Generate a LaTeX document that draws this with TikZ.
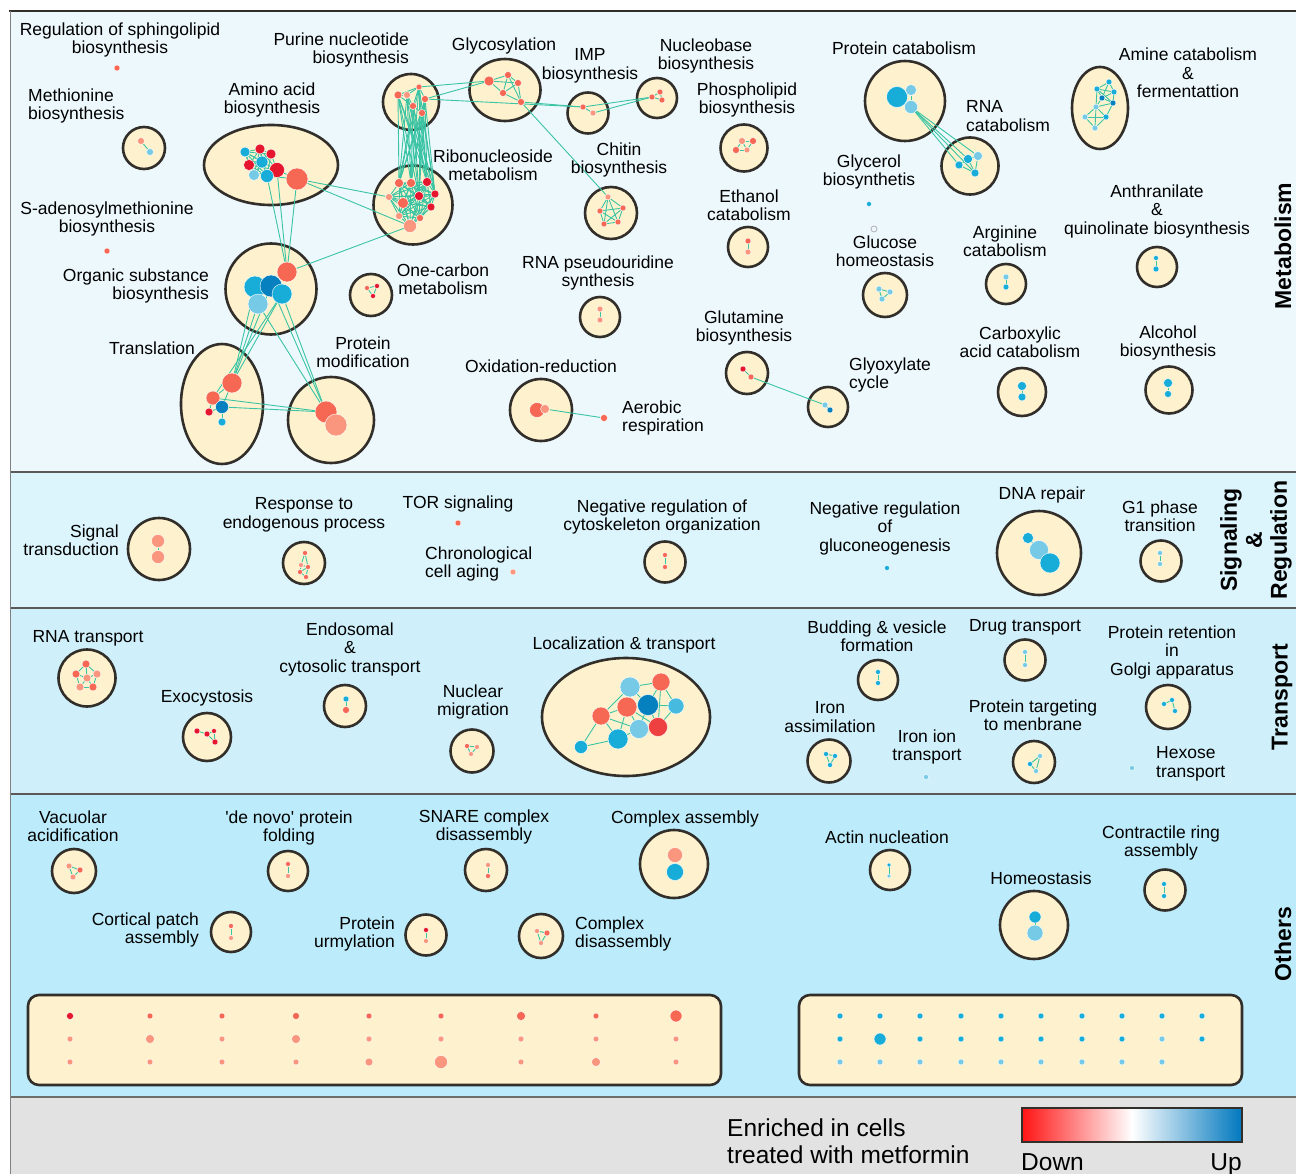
\documentclass[tikz,border=0pt]{standalone}
\usepackage{fontspec}
\setmainfont{Liberation Sans}
\usetikzlibrary{shapes}
\definecolor{rim}{RGB}{50,46,42}
\definecolor{cream}{RGB}{254,242,206}
\definecolor{rA}{RGB}{230,22,46}
\definecolor{rB}{RGB}{246,104,84}
\definecolor{rC}{RGB}{250,150,126}
\definecolor{bA}{RGB}{6,128,190}
\definecolor{bB}{RGB}{24,172,216}
\definecolor{bC}{RGB}{118,202,230}
\definecolor{edgec}{RGB}{58,196,164}
\definecolor{panMet}{RGB}{237,248,253}
\definecolor{panSig}{RGB}{220,244,252}
\definecolor{panTra}{RGB}{207,240,251}
\definecolor{panOth}{RGB}{188,236,251}
\definecolor{panLeg}{RGB}{226,226,226}
\tikzstyle{bubble}=[circle,draw=rim,fill=cream,line width=2.6pt,inner sep=0pt]
\tikzstyle{oval}=[ellipse,draw=rim,fill=cream,line width=2.6pt,inner sep=0pt]
\tikzstyle{dot}=[circle,draw=white,line width=0.4pt,inner sep=0pt]
\tikzstyle{link}=[draw=edgec,line width=0.9pt]
\tikzstyle{lbl}=[font=\fontsize{17.5}{18.5}\selectfont,align=center,inner sep=0pt]
\tikzstyle{side}=[font=\fontsize{23}{25}\selectfont\bfseries,align=center,inner sep=0pt,rotate=90]
\pgfdeclarelayer{back}
\pgfdeclarelayer{mid}
\pgfsetlayers{back,mid,main}
\begin{document}
\begin{tikzpicture}[x=1pt,y=-1pt]
\useasboundingbox (0,0) rectangle (1296,1174);
\clip (0,0) rectangle (1296,1174);

\begin{pgfonlayer}{back}
% panels
\fill[panMet] (10,11) rectangle (1300,472);
\fill[panSig] (10,472) rectangle (1300,608);
\fill[panTra] (10,608) rectangle (1300,794);
\fill[panOth] (10,794) rectangle (1300,1097);
\fill[panLeg] (10,1097) rectangle (1300,1180);
\draw[rim,line width=1.2pt] (9,11) -- (1300,11);
\foreach \y in {472,608,794}
    \draw[rim!80,line width=1.5pt] (10,\y) -- (1300,\y);
\draw[rim!70,line width=2.2pt] (10,1097) -- (1300,1097);
\draw[gray,line width=1pt] (10,11) -- (10,1180);

% bubbles
\foreach \x/\y/\name/\d in {144/148/bMethio/42, 411/102/bPurine/56, 588/113/bIMP/41, 657/98/bNucleo/40,
    744/148/bPhospho/47, 413/205/bRibo/79, 611/213/bChitin/52, 748/247/bEthanol/40, 371/295/bOneC/42,
    600/317/bPseudo/40, 331/420/bProtMod/86, 271/289/bOrganic/91, 541/410/bOxid/62, 905/101/bProtCat/80,
    970/166/bRNAcat/57, 885/295/bGlucose/44, 1006/284/bArginine/40, 1157/267/bAnthra/40,
    747/373/bGlutamine/42, 828/407/bGlyox/40, 1022/392/bCarbox/48, 1169/390/bAlcohol/47,
    159/549/bSignal/62, 304/563/bResp/42, 665/562/bNegCyto/41, 1039/553/bDNA/84, 1161/561/bGone/41,
    87/678/bRNAtr/57, 207/737/bExo/48, 345/706/bEndo/42, 472/751/bNuclear/43, 878/680/bBudding/40,
    829/761/bIronAs/43, 1025/660/bDrug/41, 1034/762/bTarget/42, 1168/707/bRetention/44,
    74/871/bVacuolar/44, 288/871/bDeNovo/40, 486/870/bSNARE/42, 674/864/bCplxAs/68, 890/870/bActin/40,
    1165/890/bContract/41, 1034/925/bHomeo/68, 231/932/bCortical/40, 426/935/bUrmyl/41, 541/936/bCplxDis/44}
    \node[bubble,minimum size=\d pt] (\name) at (\x,\y) {};
\foreach \x/\y/\name/\w/\h in {271/165/bAmino/134/80, 505/90/bGlyco/71/62, 222/404/bTransl/82/120,
    1100/108/bAmine/56/82, 626/717/bLocal/168/118}
    \node[oval,minimum width=\w pt,minimum height=\h pt] (\name) at (\x,\y) {};
\node[draw=rim,fill=cream,line width=2.6pt,rounded corners=11pt,minimum width=693pt,minimum height=90pt] (gridDown) at (374.5,1040) {};
\node[draw=rim,fill=cream,line width=2.6pt,rounded corners=11pt,minimum width=443pt,minimum height=90pt] (gridUp) at (1020.5,1040) {};
\end{pgfonlayer}

% dots
\foreach \x/\y/\name/\col/\d in {141/141/me1/rC/7, 150/152/me2/bC/7, 117/68/sp1/rB/6, 107/251/sa1/rB/6,
    245/152/aa1/bB/10, 260/149/aa2/rA/10, 271/154/aa3/rA/10, 262/162/aa4/bB/12, 249/165/aa5/rA/11,
    277/170/aa6/rA/15, 254/175/aa7/bC/11, 267/176/aa8/bB/13, 297/179/aa9/rB/22,
    398/95/pu1/rB/8, 407/95/pu2/rC/7, 419/87/pu3/rB/6, 425/99/pu4/rB/7, 413/106/pu5/rB/7, 422/113/pu6/rB/7,
    489/81/gl1/rB/10, 508/75/gl2/rB/7, 518/83/gl3/rB/7, 503/93/gl4/rB/7, 521/102/gl5/rB/7,
    583/107/im1/rB/6, 593/113/im2/rC/6, 652/97/nb1/rB/6, 660/92/nb2/rB/6, 662/100/nb3/rB/6,
    736/150/ph1/rB/7, 742/141/ph2/rC/7, 753/141/ph3/rB/7, 747/150/ph4/rC/6,
    399/183/ri1/rB/9, 411/183/ri2/rB/9, 427/182/ri3/rA/9, 435/194/ri4/rA/8, 419/196/ri5/rA/9,
    403/203/ri6/rB/11, 389/197/ri7/rC/7, 431/207/ri8/rA/8, 420/218/ri9/rB/7, 399/216/ri10/rC/7, 410/226/ri11/rC/13,
    608/197/ch1/rC/6, 623/208/ch2/rB/6, 618/222/ch3/rB/6, 604/224/ch4/rB/6, 600/211/ch5/rB/6,
    748/241/et1/rB/6, 748/252/et2/rC/6, 367/288/oc1/rB/5, 377/286/oc2/rA/5, 373/296/oc3/rA/5,
    600/309/ps1/rC/6, 600/320/ps2/rC/6,
    232/383/tr1/rB/20, 213/398/tr2/rB/14, 222/407/tr3/bA/13, 209/412/tr4/rA/8, 222/422/tr5/bB/8,
    326/412/md1/rB/22, 336/425/md2/rC/22,
    255/287/os2/bB/22, 271/286/os3/bA/22, 282/294/os4/bB/20, 258/304/os5/bC/20, 287/272/os1/rB/20,
    537/410/ox1/rB/15, 545/409/ox2/rC/9, 604/418/ae1/rB/7,
    897/97/pc1/bB/21, 911/90/pc2/bC/11, 911/107/pc3/bC/13,
    959/165/rc1/bB/8, 968/159/rc2/bB/9, 978/156/rc3/bC/9, 975/173/rc4/bB/8,
    1109/82/am1/bB/6, 1097/89/am2/bB/6, 1114/92/am3/bB/6, 1102/98/am4/bA/6, 1113/103/am5/bA/6,
    1096/107/am6/bC/6, 1106/117/am7/bB/6, 1085/117/am8/bC/6, 1095/128/am9/bC/6,
    869/204/gc1/bB/5, 879/289/gu1/bC/6, 890/292/gu2/bC/6, 882/299/gu3/bC/6,
    1006/277/ar1/bC/6, 1006/287/ar2/bB/6, 1156/258/an1/bB/5, 1156/269/an2/bB/6,
    743/369/gq1/rA/6, 751/377/gq2/rB/6, 825/405/gx1/bC/6, 830/410/gx2/bA/6,
    1022/386/cx1/bB/9, 1022/397/cx2/bB/8, 1168/383/al1/bB/9, 1168/394/al2/bB/7,
    158/541/sg1/rC/13, 158/557/sg2/rC/13,
    305/553/re1/rB/5, 301/565/re2/rC/5, 308/567/re3/rB/5, 300/572/re4/rB/5, 306/577/re5/rB/5,
    458/523/to1/rB/6, 513/572/cr1/rC/6, 665/555/nc1/rB/5, 665/567/nc2/rB/5, 887/568/ng1/bB/5,
    1028/538/dn1/bB/11, 1039/550/dn2/bC/19, 1050/563/dn3/bB/20, 1160/553/gp1/bC/5, 1160/564/gp2/bC/5,
    86/664/rt1/rB/8, 76/674/rt2/rB/8, 97/674/rt3/rC/8, 87/678/rt4/rC/8, 80/687/rt5/rC/8, 93/687/rt6/rB/8,
    197/731/ex1/rA/6, 207/734/ex2/rA/6, 214/731/ex3/rA/5, 215/742/ex4/rA/6,
    346/699/en1/bB/6, 346/710/en2/rB/7, 467/746/nu1/rB/5, 477/747/nu2/rC/5, 471/754/nu3/rC/5,
    630/687/lo1/bC/20, 661/682/lo2/rB/18, 648/705/lo3/bA/21, 627/707/lo4/rB/20, 676/706/lo5/bB!50!bC/16,
    601/716/lo6/rB/18, 639/729/lo7/bC/19, 658/727/lo8/rA!50!rB/19, 618/739/lo9/bB/20, 581/747/lo10/bB/13,
    878/672/bu1/bB/5, 878/683/bu2/bB/5, 826/754/ia1/bB/5, 835/756/ia2/bB/5, 830/765/ia3/bB/5,
    926/777/ii1/bC/5, 1025/652/dr1/bC/5, 1025/665/dr2/bC/5,
    1040/756/tg1/bC/5, 1030/764/tg2/bB/5, 1036/771/tg3/bC/5,
    1164/704/rg1/bB/5, 1172/700/rg2/bB/5, 1175/711/rg3/bB/5, 1132/768/hx1/bC/5,
    69/866/va1/rC/6, 80/870/va2/rB/6, 73/877/va3/rC/6, 288/864/dv1/rB/5, 288/876/dv2/rC/5,
    488/865/sn1/rC/5, 488/876/sn2/rB/5, 675/855/ca1/rC/15, 675/872/ca2/bB/17,
    889/865/ac1/bB/4, 889/876/ac2/bC/4, 1164/884/co1/bB/5, 1164/896/co2/bB/5,
    1035/917/ho1/bB/12, 1035/933/ho2/bC/16, 231/926/cp1/rB/5, 231/938/cp2/rC/5,
    426/930/um1/rA/5, 426/941/um2/rC/5, 537/931/cd1/rC/5, 547/933/cd2/rB/6, 541/943/cd3/rC/5}
    \node[dot,fill=\col,minimum size=\d pt] (\name) at (\x,\y) {};
\node[circle,draw=gray!60,line width=0.8pt,inner sep=0pt,minimum size=6pt] (hg1) at (874,229) {};

% grid of unlinked terms
\foreach \x/\y/\col/\d [count=\i] in {70/1016/rA/7, 150/1016/rB/6, 222/1016/rB/6, 296/1016/rB/7, 369/1016/rB/6,
    441/1016/rB/6, 521/1016/rB/9, 596/1016/rB/6, 676/1016/rB/12,
    70/1039/rC/6, 150/1039/rC/9, 222/1039/rC/6, 296/1039/rC/9, 369/1039/rC/6,
    441/1039/rC/6, 521/1039/rC/6, 596/1039/rC/6, 676/1039/rC/6,
    70/1062/rC/6, 150/1062/rC/6, 222/1062/rC/6, 296/1062/rC/6, 369/1062/rC/8,
    441/1062/rC/13, 521/1062/rC/6, 596/1062/rC/9, 676/1062/rC/6}
    \node[dot,fill=\col,minimum size=\d pt] (gd\i) at (\x,\y) {};
\foreach \x/\b/\d [count=\i] in {840/bB/6, 880/bB/12, 920/bB/6, 961/bB/6, 1001/bB/6,
    1041/bB/6, 1082/bB/6, 1122/bB/6, 1162/bC/6, 1202/bB/6} {
    \node[dot,fill=bB,minimum size=6pt] (gu1\i) at (\x,1016) {};
    \node[dot,fill=\b,minimum size=\d pt] (gu2\i) at (\x,1039) {};
}
\foreach \x [count=\i] in {840,880,920,961,1001,1041,1082,1122,1162}
    \node[dot,fill=bC,minimum size=6pt] (gu3\i) at (\x,1062) {};

% links
\begin{pgfonlayer}{mid}
\foreach \i [evaluate=\i as \k using int(\i+1)] in {1,...,10}
    \foreach \j in {\k,...,11}
        \draw[link] (ri\i) -- (ri\j);
\foreach \i [evaluate=\i as \k using int(\i+1)] in {1,...,7}
    \foreach \j in {\k,...,8}
        \draw[link] (aa\i) -- (aa\j);
\foreach \i [evaluate=\i as \k using int(\i+1)] in {1,...,4}
    \foreach \j in {\k,...,5}
        \draw[link] (ch\i) -- (ch\j);
\foreach \i in {1,...,6}
    \foreach \j in {1,...,5}
        \draw[link] (pu\i) -- (ri\j);
\foreach \source/\dest in {me1/me2, aa8/aa9, aa6/aa9, aa9/ri7, aa9/ri11, aa6/os1, aa8/os1, aa9/os1,
    pu1/pu2, pu1/pu3, pu2/pu3, pu3/pu4, pu2/pu5, pu5/pu6, pu4/pu6, pu1/pu5, pu3/pu5,
    pu3/gl1, pu4/gl1, pu4/im1,
    gl1/gl2, gl1/gl3, gl2/gl3, gl2/gl4, gl3/gl4, gl1/gl4, gl2/gl5, gl3/gl5, gl4/gl5,
    gl5/im1, gl5/ch1, im1/im2, im1/nb1, im2/nb1, nb1/nb2, nb1/nb3, nb2/nb3,
    ph1/ph2, ph2/ph3, ph3/ph4, ph1/ph4, ph2/ph4,
    et1/et2, oc1/oc2, oc1/oc3, oc2/oc3, ps1/ps2, ri11/os1,
    os2/tr1, os3/tr1, os4/tr1, os5/tr1, os4/tr2, os4/md1, os3/md1, os5/md1,
    tr1/tr2, tr1/tr3, tr2/tr3, tr3/tr4, tr3/tr5, tr2/tr4, tr3/md1, tr2/md1, md1/md2,
    ox1/ox2, ox2/ae1,
    pc1/pc2, pc1/pc3, pc2/pc3, pc3/rc1, pc3/rc2, pc3/rc3, pc3/rc4,
    rc1/rc2, rc2/rc3, rc3/rc4, rc1/rc4, rc2/rc4,
    am1/am2, am1/am3, am2/am3, am2/am4, am3/am4, am1/am4, am3/am5, am4/am5, am2/am6, am4/am6,
    am5/am6, am6/am7, am5/am7, am6/am8, am6/am9, am7/am9, am8/am9, am7/am8, am2/am5,
    gu1/gu2, gu2/gu3, gu1/gu3, ar1/ar2, an1/an2, gq1/gq2, gq2/gx1, gx1/gx2, cx1/cx2, al1/al2,
    sg1/sg2, re1/re2, re1/re3, re2/re3, re2/re4, re3/re5, re4/re5, re3/re4, nc1/nc2,
    dn1/dn2, dn2/dn3, gp1/gp2,
    rt1/rt2, rt1/rt3, rt2/rt5, rt3/rt6, rt5/rt6, rt4/rt1, rt4/rt2, rt4/rt3, rt4/rt5, rt4/rt6,
    ex1/ex2, ex2/ex3, ex2/ex4, ex3/ex4, en1/en2, nu1/nu2, nu1/nu3, nu2/nu3,
    lo1/lo2, lo1/lo3, lo1/lo4, lo2/lo3, lo2/lo5, lo3/lo5, lo3/lo4, lo3/lo7, lo3/lo8, lo4/lo6,
    lo4/lo7, lo4/lo9, lo6/lo9, lo6/lo10, lo9/lo10, lo7/lo8, lo7/lo9, lo5/lo8, lo2/lo8, lo6/lo7,
    lo1/lo6, lo4/lo8,
    bu1/bu2, ia1/ia2, ia1/ia3, ia2/ia3, dr1/dr2, tg1/tg2, tg1/tg3, tg2/tg3, rg1/rg2, rg2/rg3,
    va1/va2, va2/va3, va1/va3, dv1/dv2, sn1/sn2, ca1/ca2, ac1/ac2, co1/co2, ho1/ho2,
    cp1/cp2, um1/um2, cd1/cd2, cd1/cd3, cd2/cd3}
    \draw[link] (\source) -- (\dest);
\end{pgfonlayer}

% labels
\foreach \x/\y/\name/\txt in {120/40/tSphingo/{Regulation of sphingolipid\\biosynthesis},
    107/219/tSAM/{S-adenosylmethionine\\biosynthesis}, 272/100/tAmino/{Amino acid\\biosynthesis},
    504/46/tGlyco/{Glycosylation}, 590/66/tIMP/{IMP\\biosynthesis}, 706/56/tNucleo/{Nucleobase\\biosynthesis},
    747/100/tPhospho/{Phospholipid\\biosynthesis}, 493/165/tRibo/{Ribonucleoside\\metabolism},
    619/160/tChitin/{Chitin\\biosynthesis}, 749/205/tEthanol/{Ethanol\\catabolism},
    443/279/tOneC/{One-carbon\\metabolism}, 598/273/tPseudo/{RNA pseudouridine\\synthesis},
    152/348/tTransl/{Translation}, 363/352/tProtMod/{Protein\\modification},
    541/366/tOxid/{Oxidation-reduction}, 904/48/tProtCat/{Protein catabolism},
    1188/73/tAmine/{Amine catabolism\\\&\\fermentattion}, 869/172/tGlycerol/{Glycerol\\biosynthetis},
    885/251/tGlucose/{Glucose\\homeostasis}, 1005/241/tArginine/{Arginine\\catabolism},
    1157/211/tAnthra/{Anthranilate\\\&\\quinolinate biosynthesis}, 744/328/tGlutamine/{Glutamine\\biosynthesis},
    1020/342/tCarbox/{Carboxylic\\acid catabolism}, 1168/343/tAlcohol/{Alcohol\\biosynthesis},
    304/515/tResp/{Response to\\endogenous process}, 458/504/tTOR/{TOR signaling},
    662/517/tNegCyto/{Negative regulation of\\cytoskeleton organization},
    885/528/tNegGluco/{Negative regulation\\of\\gluconeogenesis}, 1042/495/tDNA/{DNA repair},
    1160/516/tGone/{G1 phase\\transition},
    88/638/tRNAtr/{RNA transport}, 207/698/tExo/{Exocystosis}, 350/649/tEndo/{Endosomal\\\&\\cytosolic transport},
    473/702/tNuclear/{Nuclear\\migration}, 624/645/tLocal/{Localization \& transport},
    877/636/tBudding/{Budding \& vesicle\\formation}, 830/717/tIronAs/{Iron\\assimilation},
    927/747/tIronIon/{Iron ion\\transport}, 1025/627/tDrug/{Drug transport},
    1033/715/tTarget/{Protein targeting\\to menbrane}, 1172/652/tRetention/{Protein retention\\in\\Golgi apparatus},
    73/826/tVacuolar/{Vacuolar\\acidification}, 289/828/tDeNovo/{\textquotesingle de novo\textquotesingle\ protein\\folding},
    484/827/tSNARE/{SNARE complex\\disassembly}, 685/819/tCplxAs/{Complex assembly},
    887/837/tActin/{Actin nucleation}, 1161/843/tContract/{Contractile ring\\assembly},
    1041/878/tHomeo/{Homeostasis}}
    \node[lbl] (\name) at (\x,\y) {\txt};
\foreach \x/\y/\name/\txt in {28/106/tMethio/{Methionine\\biosynthesis}, 622/418/tAerobic/{Aerobic\\respiration},
    966/116/tRNAcat/{RNA\\catabolism}, 849/375/tGlyox/{Glyoxylate\\cycle}, 425/564/tChrono/{Chronological\\cell aging},
    1156/764/tHexose/{Hexose\\transport}, 575/934/tCplxDis/{Complex\\disassembly}}
    \node[lbl,anchor=west,align=left] (\name) at (\x,\y) {\txt};
\foreach \x/\y/\name/\txt in {209/286/tOrganic/{Organic substance\\biosynthesis}, 409/50/tPurine/{Purine nucleotide\\biosynthesis},
    119/540/tSignal/{Signal\\transduction}, 199/930/tCortical/{Cortical patch\\assembly},
    395/934/tUrmyl/{Protein\\urmylation}}
    \node[lbl,anchor=east,align=right] (\name) at (\x,\y) {\txt};

% section titles
\node[side] (tMetab) at (1283,246) {Metabolism};
\node[side] (tSigReg) at (1256,540) {Signaling\\\&\\Regulation};
\node[side] (tTrans) at (1282,697) {Transport};
\node[side] (tOthers) at (1283,944) {Others};

% legend
\node[font=\fontsize{24.5}{27}\selectfont,align=left,anchor=west,inner sep=0pt] (tEnriched) at (727,1141) {Enriched in cells\\treated with metformin};
\node[draw=rim,line width=2pt,minimum width=220pt,minimum height=34pt,inner sep=0pt,
    left color={rgb,255:red,255;green,20;blue,20},right color={rgb,255:red,0;green,120;blue,190},middle color=white] (bar) at (1132,1125) {};
\node[font=\fontsize{24.5}{27}\selectfont,anchor=base west,inner sep=0pt] (tDown) at (1021,1170) {Down};
\node[font=\fontsize{24.5}{27}\selectfont,anchor=base east,inner sep=0pt] (tUp) at (1242,1170) {Up};
\end{tikzpicture}
\end{document}
